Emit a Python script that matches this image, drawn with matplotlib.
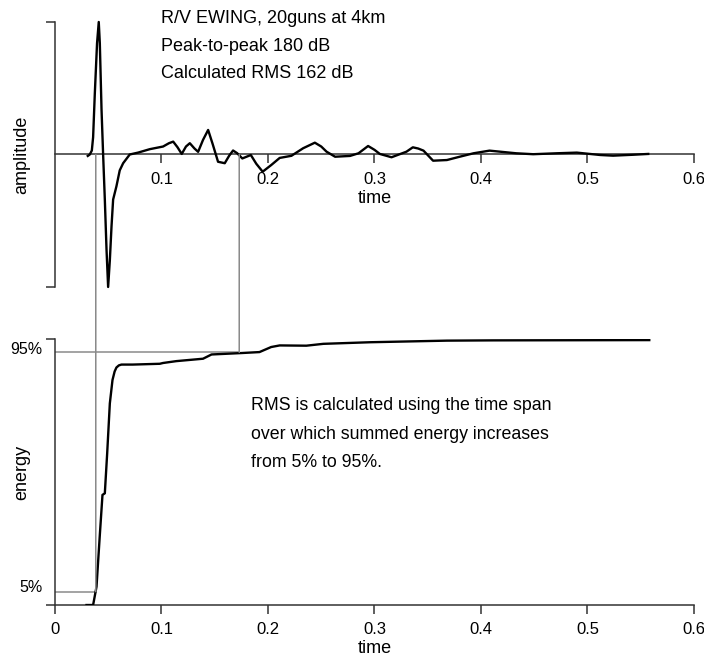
import matplotlib
matplotlib.use("Agg")
import matplotlib.pyplot as plt
from matplotlib.patches import ConnectionPatch
import matplotlib.transforms as mtransforms

plt.rcParams['font.family'] = ['Liberation Sans', 'DejaVu Sans']

# airgun signature (time in s, amplitude normalised to the peak)
wave_t = [0.0308, 0.0327, 0.0346, 0.0358, 0.0374, 0.0395, 0.0411, 0.0421, 0.0437, 0.0452,
          0.0468, 0.0484, 0.0499, 0.0515, 0.0531, 0.0546, 0.0577, 0.0608, 0.0640, 0.0702,
          0.078, 0.089, 0.1015, 0.107, 0.111, 0.115, 0.119, 0.123, 0.1266, 0.131, 0.1344,
          0.139, 0.1438, 0.148, 0.1531, 0.1594, 0.1635, 0.1672, 0.171, 0.1759, 0.1839,
          0.189, 0.195, 0.203, 0.211, 0.222, 0.233, 0.244, 0.250, 0.255, 0.263,
          0.277, 0.285, 0.294, 0.300, 0.305, 0.316, 0.330, 0.336, 0.341, 0.346, 0.355, 0.368,
          0.380, 0.393, 0.408, 0.418, 0.433, 0.449, 0.471, 0.490, 0.512, 0.524,
          0.543, 0.557]
wave_a = [-0.011, 0.0, 0.03, 0.13, 0.46, 0.84, 1.0, 0.84, 0.34, 0.0,
          -0.34, -0.72, -1.0, -0.8, -0.54, -0.34, -0.24, -0.12, -0.066, 0.0,
          0.014, 0.04, 0.06, 0.085, 0.097, 0.055, 0.004, 0.06, 0.085, 0.045, 0.02,
          0.11, 0.185, 0.08, -0.055, -0.066, -0.01, 0.03, 0.01, -0.03, -0.004,
          -0.07, -0.13, -0.08, -0.026, -0.01, 0.047, 0.089, 0.06, 0.021, -0.017,
          -0.011, 0.009, 0.064, 0.035, 0.004, -0.021, 0.021, 0.054, 0.045, 0.029, -0.047, -0.042,
          -0.017, 0.009, 0.029, 0.021, 0.009, 0.002, 0.009, 0.014, -0.004, -0.009,
          -0.002, 0.004]

# summed energy, fraction of total
energy_t = [0.0296, 0.0358, 0.039, 0.042, 0.0446, 0.0468, 0.049, 0.0515, 0.054, 0.056, 0.0577,
            0.060, 0.0624, 0.073, 0.0984, 0.1015, 0.114, 0.139, 0.147, 0.1735, 0.192, 0.203,
            0.211, 0.236, 0.252, 0.296, 0.368, 0.411, 0.558]
energy_v = [0.0, 0.0, 0.069, 0.257, 0.414, 0.42, 0.57, 0.758, 0.846, 0.878, 0.893,
            0.901, 0.904, 0.904, 0.907, 0.91, 0.917, 0.926, 0.942, 0.947, 0.951, 0.97,
            0.976, 0.975, 0.982, 0.988, 0.994, 0.995, 0.996]

t_5 = 0.0383   # time where energy passes 5%
t_95 = 0.173   # time where energy passes 95%

xticks_top = [0.1, 0.2, 0.3, 0.4, 0.5, 0.6]
xticks_bot = [0, 0.1, 0.2, 0.3, 0.4, 0.5, 0.6]
xtick_labels_top = ["0.1", "0.2", "0.3", "0.4", "0.5", "0.6"]
xtick_labels_bot = ["0", "0.1", "0.2", "0.3", "0.4", "0.5", "0.6"]

info_lines = ["R/V EWING, 20guns at 4km", "Peak-to-peak 180 dB", "Calculated RMS 162 dB"]
note_lines = ["RMS is calculated using the time span",
              "over which summed energy increases",
              "from 5% to 95%."]

axis_col = "#333333"
ref_col = "#8a8a8a"
fs = 13
tick_fs = 12

fig = plt.figure(figsize=(7.04, 6.6), dpi=100)
ax1 = fig.add_axes([0.0781, 0.5652, 0.9077, 0.4015])
ax2 = fig.add_axes([0.0781, 0.0833, 0.9077, 0.4030])

# ---- top panel: waveform
ax1.plot(wave_t, wave_a, color="black", lw=1.7, zorder=3, clip_on=False)
ax1.set_xlim(0, 0.6)
ax1.set_ylim(-1, 1)
ax1.spines['top'].set_visible(False)
ax1.spines['right'].set_visible(False)
ax1.spines['bottom'].set_position(('data', 0))
ax1.spines['left'].set_bounds(-1, 1)
for s in ['left', 'bottom']:
    ax1.spines[s].set_color(axis_col)
    ax1.spines[s].set_linewidth(1.1)
ax1.set_xticks(xticks_top)
ax1.set_xticklabels(xtick_labels_top)
ax1.set_yticks([-1, 1])
ax1.set_yticklabels([])
ax1.tick_params(direction='out', length=6.5, width=1.1, color=axis_col, labelsize=tick_fs, pad=6)
ax1.set_xlabel("time", fontsize=fs, labelpad=2)
ax1.set_ylabel("amplitude", fontsize=fs)
ax1.yaxis.set_label_coords(-0.039, 0.5)

tr1 = mtransforms.blended_transform_factory(ax1.transData, ax1.transAxes)
for i, line in enumerate(info_lines):
    ax1.text(0.1, 0.996 - i * 0.104, line, fontsize=fs, va='baseline', ha='left', transform=tr1)

# ---- bottom panel: summed energy
ax2.plot(energy_t, energy_v, color="black", lw=1.7, zorder=3)
ax2.set_xlim(0, 0.6)
ax2.set_ylim(0, 1)
ax2.spines['top'].set_visible(False)
ax2.spines['right'].set_visible(False)
for s in ['left', 'bottom']:
    ax2.spines[s].set_color(axis_col)
    ax2.spines[s].set_linewidth(1.1)
ax2.set_xticks(xticks_bot)
ax2.set_xticklabels(xtick_labels_bot)
ax2.set_yticks([0, 1])
ax2.set_yticklabels([])
ax2.tick_params(direction='out', length=6.5, width=1.1, color=axis_col, labelsize=tick_fs, pad=6)
ax2.set_xlabel("time", fontsize=fs, labelpad=2)
ax2.set_ylabel("energy", fontsize=fs)
ax2.yaxis.set_label_coords(-0.039, 0.5)

trans = mtransforms.blended_transform_factory(ax2.transAxes, ax2.transData)
ax2.text(-0.02, 0.962, "95%", fontsize=11.5, ha='right', va='center', transform=trans)
ax2.text(-0.02, 0.064, "5%", fontsize=11.5, ha='right', va='center', transform=trans)

ax2.plot([0, t_95], [0.95, 0.95], color=ref_col, lw=1.1, zorder=2)
ax2.plot([0, t_5], [0.05, 0.05], color=ref_col, lw=1.1, zorder=2)

for i, line in enumerate(note_lines):
    ax2.text(0.1836, 0.733 - i * 0.107, line, fontsize=12.8, ha='left', va='baseline')

# vertical lines joining the two panels
for t_mark, e_mark in [(t_5, 0.05), (t_95, 0.95)]:
    con = ConnectionPatch(xyA=(t_mark, 0), coordsA=ax1.transData,
                          xyB=(t_mark, e_mark), coordsB=ax2.transData,
                          color=ref_col, lw=1.1, zorder=1)
    fig.add_artist(con)

fig.savefig("out.png", dpi=100)
